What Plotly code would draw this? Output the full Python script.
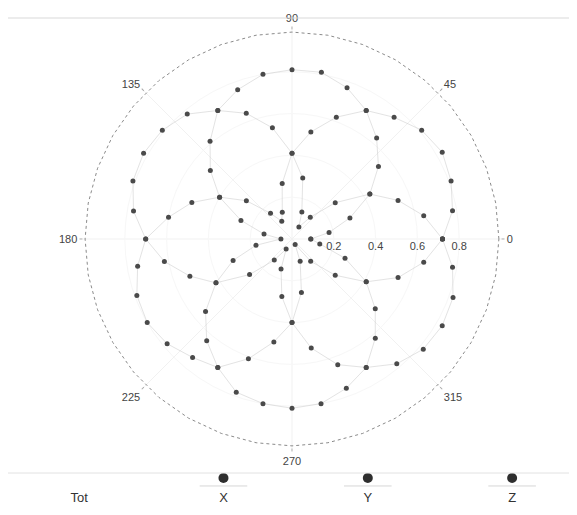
import plotly.graph_objects as go

# ---- data ----
THETA = [0, 10, 20, 30, 40, 50, 60, 70, 80, 90, 100, 110, 120, 130, 140, 150, 160, 170,
         180, 190, 200, 210, 220, 230, 240, 250, 260, 270, 280, 290, 300, 310, 320, 330, 340, 350]

TOT_R = [0.99, 0.99, 0.99, 0.99, 0.99, 0.99, 0.99, 0.99, 0.99, 0.99, 0.99, 0.99,
         0.99, 0.99, 0.99, 0.99, 0.99, 0.99, 0.99, 0.99, 0.99, 0.99, 0.99, 0.99,
         0.99, 0.99, 0.99, 0.99, 0.99, 0.99, 0.99, 0.99, 0.99, 0.99, 0.99, 0.99]

X_R = [0.72, 0.78, 0.81, 0.83, 0.81, 0.76, 0.71, 0.62, 0.52, 0.41, 0.27, 0.136,
       0.098, 0.16, 0.285, 0.40, 0.51, 0.60, 0.70, 0.75, 0.79, 0.80, 0.78, 0.74,
       0.71, 0.61, 0.50, 0.40, 0.26, 0.114, 0.03, 0.139, 0.27, 0.41, 0.54, 0.64]

Y_R = [0.09, 0.18, 0.295, 0.43, 0.54, 0.63, 0.71, 0.77, 0.81, 0.81, 0.80, 0.76,
       0.71, 0.61, 0.51, 0.40, 0.26, 0.136, 0.053, 0.175, 0.30, 0.42, 0.54, 0.635,
       0.71, 0.78, 0.80, 0.81, 0.80, 0.76, 0.71, 0.62, 0.52, 0.41, 0.27, 0.135]

Z_R = [0.72, 0.64, 0.54, 0.43, 0.27, 0.136, 0.066, 0.138, 0.296, 0.41, 0.54, 0.64,
       0.71, 0.78, 0.81, 0.82, 0.81, 0.77, 0.70, 0.62, 0.52, 0.42, 0.265, 0.132,
       0.056, 0.153, 0.28, 0.40, 0.53, 0.64, 0.71, 0.78, 0.82, 0.83, 0.82, 0.78]

ANGLE_TICKS = [0, 45, 90, 135, 180, 225, 270, 315]
ANGLE_TICK_TEXT = ["0", "45", "90", "135", "180", "225", "270", "315"]
RADIAL_TICKS = [0.2, 0.4, 0.6, 0.8]
RADIAL_TICK_TEXT = ["0.2", "0.4", "0.6", "0.8"]

LEGEND_LABELS = ["Tot", "X", "Y", "Z"]
LEGEND_MARK = [None, 1, 1, 1]
LEGEND_UNDER = [None, 0.2, 0.2, 0.2]


def closed(vals):
    return list(vals) + [vals[0]]


fig = go.Figure()

fig.add_trace(go.Scatterpolar(
    r=closed(TOT_R), theta=closed(THETA), mode="lines", name="Tot",
    line=dict(color="#8a8a8a", width=1, dash="dot"),
))

for name, vals in (("X", X_R), ("Y", Y_R), ("Z", Z_R)):
    fig.add_trace(go.Scatterpolar(
        r=closed(vals), theta=closed(THETA), mode="lines+markers", name=name,
        line=dict(color="rgba(200,200,200,0.5)", width=1),
        marker=dict(color="#4a4a4a", size=5),
    ))

# bottom key row
fig.add_trace(go.Scatter(
    x=LEGEND_LABELS, y=LEGEND_UNDER, mode="markers", xaxis="x", yaxis="y",
    marker=dict(symbol="line-ew", size=34, line=dict(color="#d6d6d6", width=1)),
    hoverinfo="skip",
))
fig.add_trace(go.Scatter(
    x=LEGEND_LABELS, y=LEGEND_MARK, mode="markers", xaxis="x", yaxis="y",
    marker=dict(color="#2e2e2e", size=10),
))

fig.update_layout(
    width=577, height=515,
    margin=dict(l=0, r=0, t=0, b=0),
    paper_bgcolor="white", plot_bgcolor="white",
    showlegend=False,
    font=dict(family="Liberation Sans, Arial, sans-serif", color="#444444"),
    polar=dict(
        domain=dict(x=[0.130, 0.8544], y=[0.1455, 0.9575]),
        bgcolor="white",
        radialaxis=dict(
            range=[0, 1.0], tickvals=RADIAL_TICKS, ticktext=RADIAL_TICK_TEXT,
            showline=False, gridcolor="#f7f7f7", ticks="", angle=0,
            tickfont=dict(size=11, color="#444444"),
        ),
        angularaxis=dict(
            tickvals=ANGLE_TICKS, ticktext=ANGLE_TICK_TEXT,
            direction="counterclockwise", rotation=0,
            showline=False, gridcolor="#f1f1f1",
            ticks="outside", ticklen=3, tickcolor="#aaaaaa",
            tickfont=dict(size=11, color="#444444"),
        ),
    ),
    xaxis=dict(
        domain=[0, 1], type="category", categoryorder="array",
        categoryarray=LEGEND_LABELS, range=[-0.493, 3.505],
        showgrid=False, zeroline=False, showline=False, ticks="",
        tickfont=dict(size=13, color="#333333"),
    ),
    yaxis=dict(
        domain=[0.068, 0.1068], range=[0, 2],
        showgrid=False, zeroline=False, showline=False, showticklabels=False,
    ),
    shapes=[
        dict(type="line", xref="paper", yref="paper", x0=0, x1=1,
             y0=1 - 10 / 515, y1=1 - 10 / 515, line=dict(color="#d9d9d9", width=1)),
        dict(type="line", xref="paper", yref="paper", x0=0, x1=1,
             y0=1 - 465 / 515, y1=1 - 465 / 515, line=dict(color="#e2e2e2", width=1)),
    ],
)

fig.write_html("out.html")
